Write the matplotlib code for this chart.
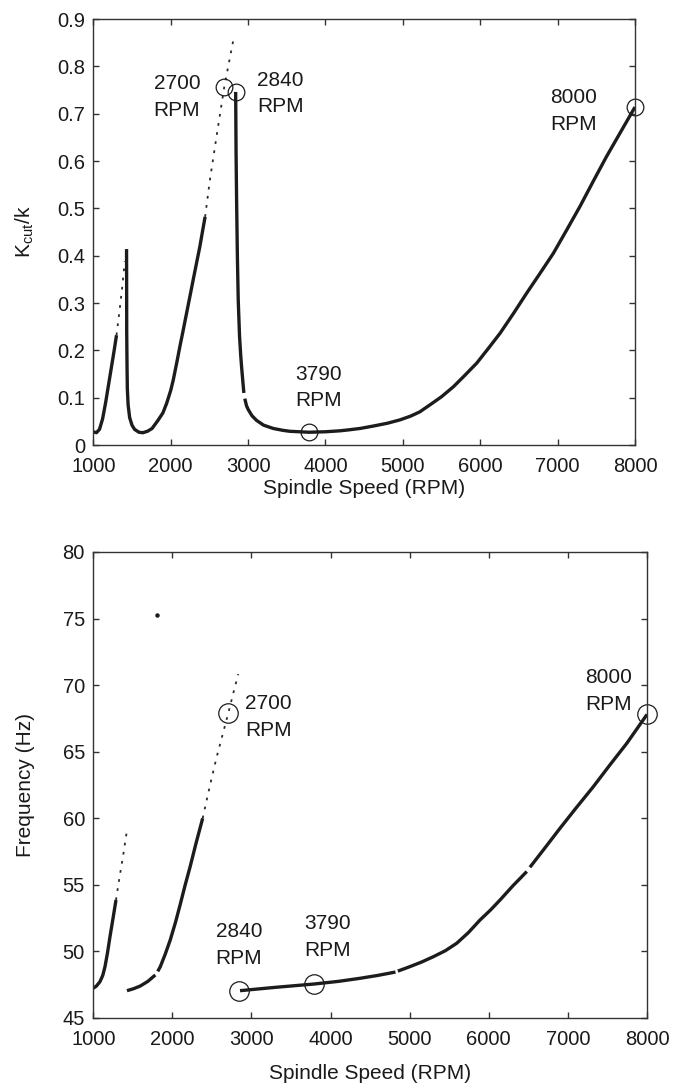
import matplotlib
matplotlib.use("Agg")
import matplotlib.pyplot as plt

plt.rcParams['font.family'] = ['Liberation Sans', 'DejaVu Sans']
plt.rcParams['mathtext.fontset'] = 'custom'
plt.rcParams['mathtext.rm'] = 'Liberation Sans'

# ---------------- Top panel: Kcut/k vs spindle speed ----------------
k_seg1_rpm = [1000, 1040, 1080, 1120, 1160, 1200, 1240, 1270, 1300]
k_seg1 = [0.028, 0.026, 0.033, 0.055, 0.090, 0.130, 0.170, 0.200, 0.232]
k_dot1_rpm = [1300, 1340, 1375, 1407]
k_dot1 = [0.232, 0.285, 0.335, 0.388]
k_seg2_rpm = [1430, 1431, 1432, 1436, 1440, 1450, 1470, 1500, 1534, 1590, 1640,
              1700, 1760, 1840, 1900, 1948, 2000, 2033, 2080, 2119, 2160, 2205,
              2250, 2291, 2335, 2377, 2410, 2445]
k_seg2 = [0.414, 0.350, 0.240, 0.170, 0.120, 0.085, 0.058, 0.042, 0.033, 0.027, 0.026,
          0.029, 0.035, 0.053, 0.068, 0.088, 0.115, 0.137, 0.175, 0.208, 0.241, 0.278,
          0.315, 0.349, 0.385, 0.419, 0.450, 0.482]
k_dot2_rpm = [2445, 2507, 2593, 2692, 2744, 2815]
k_dot2 = [0.482, 0.560, 0.652, 0.756, 0.800, 0.860]
k_seg3a_rpm = [2840, 2845, 2852, 2862, 2873, 2890, 2905, 2916, 2935, 2946]
k_seg3a = [0.746, 0.620, 0.518, 0.400, 0.307, 0.230, 0.190, 0.166, 0.130, 0.110]
k_seg3b_rpm = [2958, 2980, 3002, 3050, 3110, 3200, 3325, 3450, 3540, 3786, 4000,
               4186, 4300, 4448, 4616, 4800, 4961, 5100, 5219, 5352, 5500, 5653, 5800,
               5955, 6100, 6256, 6430, 6601, 6770, 6945, 7120, 7289, 7460, 7634,
               7810, 8000]
k_seg3b = [0.098, 0.083, 0.075, 0.062, 0.052, 0.042, 0.035, 0.031, 0.029, 0.027, 0.028,
           0.030, 0.032, 0.035, 0.040, 0.046, 0.053, 0.061, 0.070, 0.085, 0.102, 0.123, 0.147,
           0.173, 0.203, 0.236, 0.278, 0.321, 0.362, 0.405, 0.455, 0.504, 0.557, 0.610,
           0.660, 0.714]
k_mark_rpm = [2692, 2840, 3786, 8000]
k_mark = [0.756, 0.746, 0.027, 0.714]
k_labels = ["2700\nRPM", "2840\nRPM", "3790\nRPM", "8000\nRPM"]
k_label_rpm = [2081, 3418, 3908, 7204]
k_label_val = [0.735, 0.743, 0.1216, 0.706]

# ---------------- Bottom panel: frequency vs spindle speed ----------------
f_seg1_rpm = [1000, 1040, 1085, 1120, 1148, 1180, 1211, 1250, 1287]
f_seg1 = [47.23, 47.40, 47.73, 48.20, 48.85, 49.90, 51.10, 52.50, 53.86]
f_dot1_rpm = [1287, 1330, 1380, 1426]
f_dot1 = [53.86, 55.50, 57.30, 59.10]
f_seg2a_rpm = [1426, 1510, 1594, 1690, 1784]
f_seg2a = [47.05, 47.20, 47.40, 47.75, 48.23]
f_seg2b_rpm = [1815, 1847, 1910, 1973, 2040, 2100, 2160, 2226, 2300, 2383]
f_seg2b = [48.50, 48.85, 49.80, 50.86, 52.20, 53.55, 54.95, 56.40, 58.15, 60.00]
f_dot2_rpm = [2383, 2480, 2560, 2640, 2707, 2770, 2833]
f_dot2 = [60.00, 62.60, 64.60, 66.40, 67.90, 69.40, 70.83]
f_iso_rpm = [1801]
f_iso = [75.25]
f_seg3a_rpm = [2855, 3300, 3790, 4100, 4372, 4600, 4820]
f_seg3a = [47.05, 47.30, 47.55, 47.75, 47.98, 48.20, 48.45]
f_seg3b_rpm = [4850, 5000, 5150, 5298, 5450, 5594, 5740, 5889, 6020, 6142, 6300, 6480]
f_seg3b = [48.52, 48.85, 49.20, 49.60, 50.05, 50.61, 51.40, 52.36, 53.10, 53.86, 54.90, 56.00]
f_seg3c_rpm = [6520, 6700, 6899, 7100, 7321, 7530, 7743, 7900, 8000]
f_seg3c = [56.32, 57.70, 59.24, 60.75, 62.37, 64.00, 65.62, 66.95, 67.80]
f_mark_rpm = [2707, 2842, 3790, 8000]
f_mark = [67.90, 47.05, 47.55, 67.80]
f_labels = ["2700\nRPM", "2840\nRPM", "3790\nRPM", "8000\nRPM"]
f_label_rpm = [3215, 2842, 3961, 7520]
f_label_val = [67.6, 50.48, 51.1, 69.55]

x_ticks = [1000, 2000, 3000, 4000, 5000, 6000, 7000, 8000]
k_ticks = [0, 0.1, 0.2, 0.3, 0.4, 0.5, 0.6, 0.7, 0.8, 0.9]
k_ticklabels = ["0", "0.1", "0.2", "0.3", "0.4", "0.5", "0.6", "0.7", "0.8", "0.9"]
f_ticks = [45, 50, 55, 60, 65, 70, 75, 80]

LC = '#1c1c1c'
TC = '#1a1a1a'
SOLID = dict(color=LC, lw=2.4, solid_capstyle='butt')
DOTTED = dict(color='#2a2a2a', lw=1.3, linestyle=(0, (1.5, 3.6)))
TICKFS = 14.5
LABFS = 15
ANNFS = 15

fig = plt.figure(figsize=(6.73, 10.87), dpi=100)
ax1 = fig.add_axes([0.1386, 0.5906, 0.8049, 0.3919])
ax2 = fig.add_axes([0.1386, 0.0635, 0.8228, 0.4287])

def style(ax):
    for s in ax.spines.values():
        s.set_color('#333333')
        s.set_linewidth(1.0)
    ax.tick_params(direction='in', length=4.5, width=1.0, color='#333333',
                   top=True, right=True, labelsize=TICKFS, pad=6,
                   labelcolor=TC)
    ax.tick_params(axis='x', pad=8.5)

# Top
ax1.plot(k_seg1_rpm, k_seg1, **SOLID)
ax1.plot(k_dot1_rpm, k_dot1, **DOTTED)
ax1.plot(k_seg2_rpm, k_seg2, **SOLID)
ax1.plot(k_dot2_rpm, k_dot2, **DOTTED)
ax1.plot(k_seg3a_rpm, k_seg3a, **SOLID)
ax1.plot(k_seg3b_rpm, k_seg3b, **SOLID)
ax1.plot(k_mark_rpm, k_mark, linestyle='none', marker='o', ms=12, mfc='none',
         mec=LC, mew=0.9, clip_on=False)
for t, x, y in zip(k_labels, k_label_rpm, k_label_val):
    ax1.text(x, y, t, ha='center', va='center', fontsize=ANNFS, color=TC,
             linespacing=1.5)
ax1.set_xlim(1000, 8000)
ax1.set_ylim(0, 0.9)
ax1.set_xticks(x_ticks)
ax1.set_yticks(k_ticks)
ax1.set_yticklabels(k_ticklabels)
ax1.set_xlabel("Spindle Speed (RPM)", fontsize=LABFS, color=TC)
ax1.set_ylabel(r"K$_\mathregular{cut}$/k", fontsize=LABFS, color=TC)
ax1.xaxis.set_label_coords(0.5, -0.080)
ax1.yaxis.set_label_coords(-0.106, 0.5)
style(ax1)

# Bottom
ax2.plot(f_seg1_rpm, f_seg1, **SOLID)
ax2.plot(f_dot1_rpm, f_dot1, **DOTTED)
ax2.plot(f_seg2a_rpm, f_seg2a, **SOLID)
ax2.plot(f_seg2b_rpm, f_seg2b, **SOLID)
ax2.plot(f_dot2_rpm, f_dot2, **DOTTED)
ax2.plot(f_iso_rpm, f_iso, linestyle='none', marker='o', ms=2.2, color=LC)
ax2.plot(f_seg3a_rpm, f_seg3a, **SOLID)
ax2.plot(f_seg3b_rpm, f_seg3b, **SOLID)
ax2.plot(f_seg3c_rpm, f_seg3c, **SOLID)
ax2.plot(f_mark_rpm, f_mark, linestyle='none', marker='o', ms=14, mfc='none',
         mec=LC, mew=0.9, clip_on=False)
for t, x, y in zip(f_labels, f_label_rpm, f_label_val):
    ax2.text(x, y, t, ha='center', va='center', fontsize=ANNFS, color=TC,
             linespacing=1.5)
ax2.set_xlim(1000, 8000)
ax2.set_ylim(45, 80)
ax2.set_xticks(x_ticks)
ax2.set_yticks(f_ticks)
ax2.set_xlabel("Spindle Speed (RPM)", fontsize=LABFS, color=TC)
ax2.set_ylabel("Frequency (Hz)", fontsize=LABFS, color=TC)
ax2.xaxis.set_label_coords(0.5, -0.098)
ax2.yaxis.set_label_coords(-0.106, 0.5)
style(ax2)

fig.savefig("out.png", dpi=100)
